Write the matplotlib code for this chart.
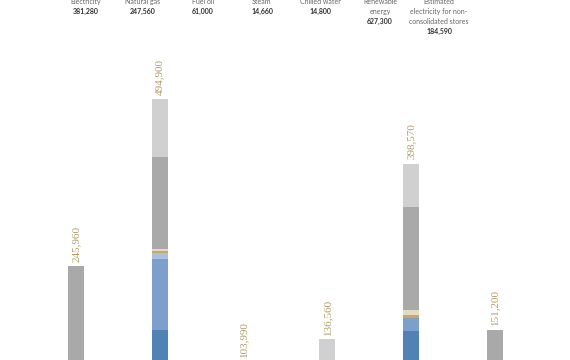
import matplotlib.pyplot as plt
import numpy as np

# Header (energy source totals)
header_labels = ['Electricity', 'Natural gas', 'Fuel oil', 'Steam', 'Chilled water',
                 'Renewable\nenergy', 'Estimated\nelectricity for non-\nconsolidated stores']
header_values = ['381,280', '247,560', '61,000', '14,660', '14,800', '627,300', '184,590']

# Bar totals (thousands)
totals = [245.96, 494.90, 103.99, 136.56, 398.57, 151.20]
total_labels = ['245,960', '494,900', '103,990', '136,560', '398,570', '151,200']

# Stacked segments, bottom to top (thousands)
dark_blue = [0, 150.6, 0, 0, 149.1, 0]
mid_blue = [0, 105.8, 0, 0, 18.6, 0]
light_blue = [0, 9.6, 0, 0, 0, 0]
tan = [0, 2.5, 0, 0, 5.2, 0]
beige = [0, 2.8, 0, 0, 7.5, 0]
gray = [245.96, 137.2, 103.99, 0, 153.5, 151.2]
light_gray = [0, 86.4, 0, 136.56, 64.67, 0]

segments = [
    (dark_blue, '#5082b6'),
    (mid_blue, '#7c9fcb'),
    (light_blue, '#a9c0e0'),
    (tan, '#c4a872'),
    (beige, '#e6dabd'),
    (gray, '#a9a9a9'),
    (light_gray, '#d0d0d0'),
]

fig = plt.figure(figsize=(5.7, 3.6), dpi=100)
# axis zero sits below the visible area (chart is cropped at the bottom)
ax = fig.add_axes([0, -0.1972, 1, 1.1972])
ax.set_xlim(-0.907, 5.895)
ax.set_ylim(0, 642.5)
ax.axis('off')

x = np.arange(len(totals))
bottom = np.zeros(len(totals))
for vals, color in segments:
    vals = np.array(vals)
    ax.bar(x, vals, width=0.19, bottom=bottom, color=color, linewidth=0)
    bottom += vals

for xi, t, lab in zip(x, totals, total_labels):
    ax.annotate(lab, (xi, t), xytext=(0, 3), textcoords='offset points',
                rotation=90, ha='center', va='bottom', fontsize=8,
                family='Liberation Serif', color='#b49c64')

# Header row
header_x = [86, 143, 203, 262, 320, 380, 439]
for hx, lab, val in zip(header_x, header_labels, header_values):
    n = lab.count('\n') + 1
    y0 = 1.7
    for i, line in enumerate(lab.split('\n')):
        fig.text(hx / 570, 1 - (y0 + 10 * i) / 360, line, ha='center', va='center',
                 fontsize=5, family='Lato', color='#666666')
    fig.text(hx / 570, 1 - (y0 + 10 * n) / 360, val, ha='center', va='center',
             fontsize=5, family='Lato', fontweight='bold', color='#333333')

fig.savefig('out.png', dpi=100)
